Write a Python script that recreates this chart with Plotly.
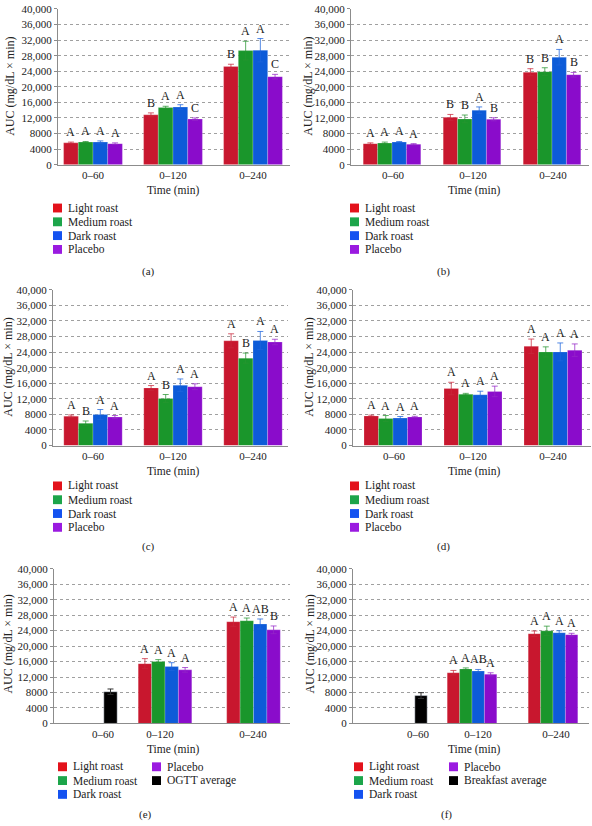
import plotly.graph_objects as go

W, H = 592, 826
FONT = "'Liberation Serif', 'Times New Roman', 'DejaVu Serif', serif"
TXT = "#222222"

categories = ["0–60", "0–120", "0–240"]
series = ["Light roast", "Medium roast", "Dark roast", "Placebo"]
bar_colors = ["#C8172E", "#1A962B", "#0D5BD8", "#8A0CCB"]
err_colors = ["rgba(200,40,60,0.75)", "rgba(40,150,50,0.75)", "rgba(30,100,220,0.75)", "rgba(150,40,200,0.75)"]
legend_colors = ["#E3121B", "#1CA54A", "#1452F0", "#9A1AE0"]
y_ticks = [0, 4000, 8000, 12000, 16000, 20000, 24000, 28000, 32000, 36000, 40000]
y_tick_labels = ["0", "4000", "8000", "12,000", "16,000", "20,000", "24,000",
                 "28,000", "32,000", "36,000", "40,000"]

# ---- panel (a) : rows = series, columns = 0–60, 0–120, 0–240
a_mean = [[5600, 12800, 25200], [5800, 14700, 29300], [5800, 14800, 29400], [5400, 11700, 22600]]
a_err = [[200, 500, 600], [150, 300, 2400], [300, 600, 3000], [200, 300, 600]]
a_sig = [["A", "B", "B"], ["A", "A", "A"], ["A", "A", "A"], ["A", "C", "C"]]

# ---- panel (b)
b_mean = [[5400, 12150, 23750], [5550, 11750, 23900], [5800, 14000, 27600], [5250, 11650, 23100]]
b_err = [[200, 750, 900], [250, 1000, 1000], [150, 830, 2000], [150, 400, 600]]
b_sig = [["A", "B", "B"], ["A", "B", "B"], ["A", "A", "A"], ["A", "B", "B"]]

# ---- panel (c)
c_mean = [[7550, 14800, 26900], [5700, 12100, 22450], [7950, 15500, 27000], [7300, 15100, 26600]]
c_err = [[300, 600, 1800], [600, 1000, 1300], [1300, 1600, 2300], [400, 750, 700]]
c_sig = [["A", "A", "A"], ["B", "B", "B"], ["A", "A", "A"], ["A", "A", "A"]]

# ---- panel (d)
d_mean = [[7600, 14650, 25500], [6950, 13200, 24050], [7050, 13050, 24050], [7350, 13900, 24500]]
d_err = [[200, 1600, 1850], [750, 200, 1300], [400, 900, 2300], [150, 1350, 1600]]
d_sig = [["A", "A", "A"], ["A", "A", "A"], ["A", "A", "A"], ["A", "A", "A"]]

# ---- panel (e) : coffee columns = 0–120, 0–240 ; average only at 0–60
e_mean = [[15450, 26300], [16000, 26550], [14700, 25700], [13850, 24200]]
e_err = [[1300, 1200], [500, 700], [1000, 1300], [600, 1000]]
e_sig = [["A", "A"], ["A", "A"], ["A", "AB"], ["A", "B"]]
e_avg_name = "OGTT average"
e_avg = [8200]
e_avg_err = [700]

# ---- panel (f)
f_mean = [[13100, 23200], [14100, 23950], [13550, 23450], [12700, 22950]]
f_err = [[600, 700], [250, 1200], [400, 500], [400, 350]]
f_sig = [["A", "A"], ["A", "A"], ["AB", "A"], ["A", "A"]]
f_avg_name = "Breakfast average"
f_avg = [7200]
f_avg_err = [750]

# ---- layout (page pixel geometry)
panels = [
    dict(tag="(a)", mean=a_mean, err=a_err, sig=a_sig, avg=None,
         x0=58, x1=290, y0=3, y1=161, centers=[93, 173, 253], ticks=[93, 173, 253], bw=14.7,
         ytitle=(10, 82), xtitle=(173, 187), label=(148, 269),
         leg=[(53, 66, 205), (53, 66, 219), (53, 66, 233), (53, 66, 247)]),
    dict(tag="(b)", mean=b_mean, err=b_err, sig=b_sig, avg=None,
         x0=351, x1=589, y0=3, y1=161, centers=[392, 472, 552], ticks=[393, 473, 553], bw=14.4,
         ytitle=(308, 82), xtitle=(474, 187), label=(443, 269),
         leg=[(350, 363, 205), (350, 363, 219), (350, 363, 233), (350, 363, 247)]),
    dict(tag="(c)", mean=c_mean, err=c_err, sig=c_sig, avg=None,
         x0=53, x1=288, y0=288, y1=446, centers=[93, 173, 253], ticks=[93, 173, 253], bw=14.6,
         ytitle=(8, 367), xtitle=(173, 472), label=(148, 548),
         leg=[(53, 66, 487), (53, 66, 501), (53, 66, 515), (53, 66, 529)]),
    dict(tag="(d)", mean=d_mean, err=d_err, sig=d_sig, avg=None,
         x0=353, x1=591, y0=288, y1=446, centers=[393, 473, 553], ticks=[394, 473, 553], bw=14.5,
         ytitle=(309, 367), xtitle=(474, 472), label=(443, 548),
         leg=[(350, 363, 487), (350, 363, 501), (350, 363, 515), (350, 363, 529)]),
    dict(tag="(e)", mean=e_mean, err=e_err, sig=e_sig, avg=(e_avg_name, e_avg, e_avg_err),
         x0=54, x1=290, y0=571, y1=728, centers=[165, 253.5], avgx=110.5, ticks=[103, 160, 253], bw=13.4,
         ytitle=(8, 648), xtitle=(173, 754), label=(145, 820),
         leg=[(58, 71, 772), (58, 71, 786), (58, 71, 800), (152, 165, 772), (152, 165, 786)]),
    dict(tag="(f)", mean=f_mean, err=f_err, sig=f_sig, avg=(f_avg_name, f_avg, f_avg_err),
         x0=353, x1=589, y0=571, y1=728, centers=[472, 553], avgx=421, ticks=[418, 478, 556], bw=12.4,
         ytitle=(310, 648), xtitle=(474, 754), label=(446, 820),
         leg=[(354, 367, 772), (354, 367, 786), (354, 367, 800), (449, 462, 772), (449, 462, 786)]),
]

fig = go.Figure()
annotations = []
shapes = []

for k, p in enumerate(panels):
    sfx = "" if k == 0 else str(k + 1)
    xa, ya = "x" + sfx, "y" + sfx
    bw = p["bw"]
    for i, name in enumerate(series):
        xs = [c + (i - 1.5) * bw for c in p["centers"]]
        fig.add_trace(go.Bar(
            x=xs, y=p["mean"][i], width=bw, name=name, xaxis=xa, yaxis=ya,
            marker=dict(color=bar_colors[i], line=dict(color="rgba(255,255,255,0.35)", width=0.6)),
            error_y=dict(type="data", array=p["err"][i], color=err_colors[i], thickness=1, width=3),
            showlegend=False, hoverinfo="skip"))
        for x, m, e, s in zip(xs, p["mean"][i], p["err"][i], p["sig"][i]):
            annotations.append(dict(x=x, y=m + e, xref=xa, yref=ya, text=s, showarrow=False,
                                    yanchor="bottom", yshift=1,
                                    font=dict(family=FONT, size=12, color=TXT)))
    names = list(series)
    cols = list(legend_colors)
    if p["avg"] is not None:
        aname, aval, aerr = p["avg"]
        fig.add_trace(go.Bar(
            x=[p["avgx"]], y=aval, width=bw, name=aname, xaxis=xa, yaxis=ya,
            marker=dict(color="#000000"),
            error_y=dict(type="data", array=aerr, color="#333333", thickness=1, width=3),
            showlegend=False, hoverinfo="skip"))
        names.append(aname)
        cols.append("#000000")

    xd = [p["x0"] / W, p["x1"] / W]
    yd = [1 - p["y1"] / H, 1 - p["y0"] / H]
    fig.layout["xaxis" + sfx] = dict(
        domain=xd, anchor=ya, range=[p["x0"], p["x1"]], showgrid=False, zeroline=False,
        showline=True, linecolor="#8c8c8c", linewidth=1, ticks="",
        tickvals=p["ticks"], ticktext=categories,
        tickfont=dict(family=FONT, size=11, color=TXT), fixedrange=True)
    fig.layout["yaxis" + sfx] = dict(
        domain=yd, anchor=xa, range=[0, 40000], tickvals=y_ticks, ticktext=y_tick_labels,
        showgrid=True, gridcolor="#a0a0a0", griddash="dot", gridwidth=1, zeroline=False,
        showline=True, linecolor="#8c8c8c", linewidth=1, ticks="outside", ticklen=3,
        tickcolor="#8c8c8c", tickfont=dict(family=FONT, size=11, color=TXT), fixedrange=True)

    # axis titles and panel label
    annotations.append(dict(x=p["ytitle"][0] / W, y=1 - p["ytitle"][1] / H, xref="paper", yref="paper",
                            text="AUC (mg/dL × min)", textangle=-90, showarrow=False,
                            xanchor="center", yanchor="middle",
                            font=dict(family=FONT, size=12, color=TXT)))
    annotations.append(dict(x=p["xtitle"][0] / W, y=1 - p["xtitle"][1] / H, xref="paper", yref="paper",
                            text="Time (min)", showarrow=False, xanchor="center", yanchor="middle",
                            font=dict(family=FONT, size=11.5, color=TXT)))
    annotations.append(dict(x=p["label"][0] / W, y=1 - p["label"][1] / H, xref="paper", yref="paper",
                            text=p["tag"], showarrow=False, xanchor="center", yanchor="middle",
                            font=dict(family=FONT, size=11, color=TXT)))
    # legend entries
    for (sx, tx, cy), nm, col in zip(p["leg"], names, cols):
        shapes.append(dict(type="rect", xref="paper", yref="paper",
                           x0=sx / W, x1=(sx + 9) / W, y0=1 - (cy + 4.5) / H, y1=1 - (cy - 4.5) / H,
                           fillcolor=col, line=dict(width=0)))
        annotations.append(dict(x=tx / W, y=1 - cy / H, xref="paper", yref="paper", text=nm,
                                showarrow=False, xanchor="left", yanchor="middle",
                                font=dict(family=FONT, size=11.5, color=TXT)))

fig.update_layout(
    width=W, height=H, margin=dict(l=0, r=0, t=0, b=0),
    paper_bgcolor="white", plot_bgcolor="white",
    barmode="overlay", showlegend=False,
    annotations=annotations, shapes=shapes,
    font=dict(family=FONT, size=11, color=TXT))

fig.write_html("out.html")
